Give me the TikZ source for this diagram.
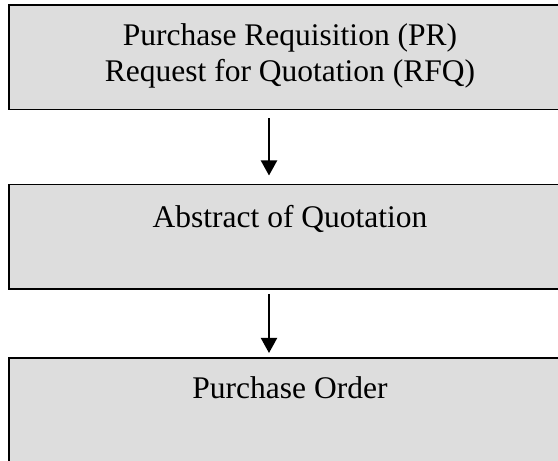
\documentclass[tikz,border=0pt]{standalone}
\usepackage{fontspec}
\setmainfont{Liberation Serif}
\usetikzlibrary{positioning, arrows.meta}
\definecolor{boxgray}{RGB}{221,221,221}

\begin{document}
\begin{tikzpicture}[x=1pt, y=1pt,
    stagebox/.style={draw=black, line width=1.5pt, fill=boxgray, minimum width=562pt, minimum height=104.5pt, inner sep=0pt, outer sep=0pt},
    stagetext/.style={anchor=north, align=center, inner sep=0pt, font=\fontsize{31.5}{36}\selectfont},
    flow/.style={line width=2pt, -{Triangle[length=15pt, width=16pt]}}]
    \useasboundingbox (0,0) rectangle (558,461);

    % Boxes of the procedure
    \node[stagebox, anchor=north west] (pr) at (9,456) {};
    \node[stagebox, below=75pt of pr] (aq) {};
    \node[stagebox, below=69pt of aq] (po) {};

    % Texts at the top of each box
    \node[stagetext] (prtext) at ([yshift=-18.5pt]pr.north) {Purchase Requisition (PR)\\Request for Quotation (RFQ)};
    \node[stagetext] (aqtext) at ([yshift=-20.5pt]aq.north) {Abstract of Quotation};
    \node[stagetext] (potext) at ([yshift=-18.5pt]po.north) {Purchase Order};

    % Arrows between the boxes
    \draw[flow, shorten <=9pt, shorten >=9pt] ([xshift=-21pt]pr.south) -- ([xshift=-21pt]aq.north);
    \draw[flow, shorten <=5pt, shorten >=5pt] ([xshift=-21pt]aq.south) -- ([xshift=-21pt]po.north);
\end{tikzpicture}
\end{document}
